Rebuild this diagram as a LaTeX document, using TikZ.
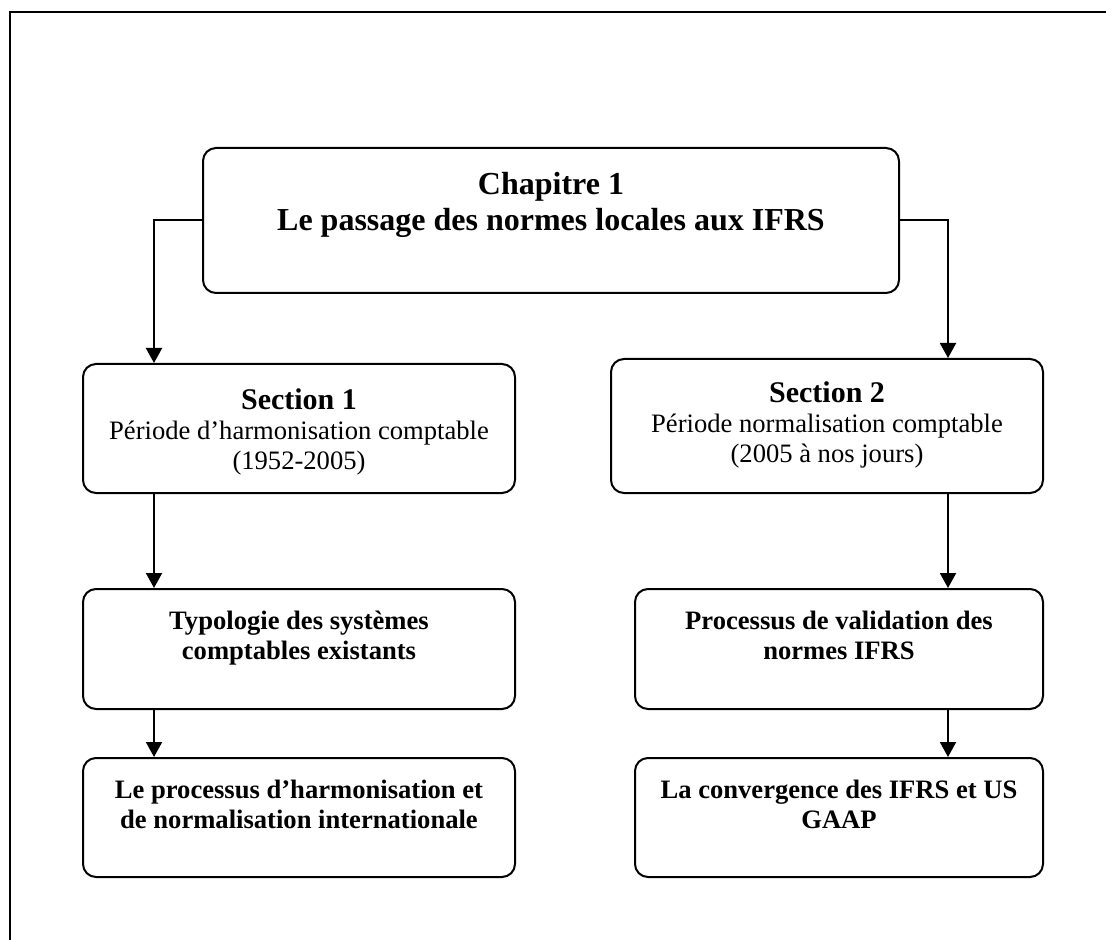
\documentclass[tikz,border=0pt]{standalone}
\usepackage{fontspec}
\setmainfont{Liberation Serif}
\usetikzlibrary{arrows.meta}
\newcommand{\boxtext}[4]{\parbox[t][#2][t]{#1}{\centering\rule{0pt}{#3}#4}}

\begin{document}
\begin{tikzpicture}[x=0.5pt,y=-0.5pt]
       \tikzstyle{cadre}=[draw, line width=1pt, rounded corners=6.5pt, inner sep=0pt, anchor=north west, font=\fontsize{13.3}{15}\selectfont]
       \tikzstyle{lien}=[line width=1pt, -{Triangle[width=8pt,length=7.5pt]}]
       \useasboundingbox (0,0) rectangle (1106,940);
       \draw[line width=1.2pt] (10,940) -- (10,12) -- (1106,12);
       % chapitre
       \node[cadre] (chap) at (202,147) {\boxtext{348pt}{72.5pt}{23.5pt}{\fontsize{16}{18}\selectfont\bfseries Chapitre 1\\Le passage des normes locales aux IFRS}};
       % section 1
       \node[cadre] (s1) at (82,363) {\boxtext{216pt}{64.5pt}{22.5pt}{{\fontsize{15}{15}\selectfont\bfseries Section 1}\\Période d’harmonisation comptable\\(1952-2005)}};
       \node[cadre] (t1) at (82,588) {\boxtext{216pt}{60pt}{20pt}{\bfseries Typologie des systèmes\\comptables existants}};
       \node[cadre] (p1) at (82,757) {\boxtext{216pt}{59.5pt}{20pt}{\bfseries Le processus d’harmonisation et\\de normalisation internationale}};
       % section 2
       \node[cadre] (s2) at (610,358) {\boxtext{216pt}{67pt}{21.5pt}{{\fontsize{15}{15}\selectfont\bfseries Section 2}\\Période normalisation comptable\\(2005 à nos jours)}};
       \node[cadre] (v2) at (634,588) {\boxtext{204pt}{60pt}{20pt}{\bfseries Processus de validation des\\normes IFRS}};
       \node[cadre] (c2) at (634,757) {\boxtext{204pt}{59.5pt}{20pt}{\bfseries La convergence des IFRS et US\\GAAP}};
       \draw[lien] (chap.west) -| ([xshift=36pt]s1.north west);
       \draw[lien] ([xshift=36pt]s1.south west) -- ([xshift=36pt]t1.north west);
       \draw[lien] ([xshift=36pt]t1.south west) -- ([xshift=36pt]p1.north west);
       \draw[lien] (chap.east) -| ([xshift=-48pt]s2.north east);
       \draw[lien] ([xshift=-48pt]s2.south east) -- ([xshift=-48pt]v2.north east);
       \draw[lien] ([xshift=-48pt]v2.south east) -- ([xshift=-48pt]c2.north east);
\end{tikzpicture}
\end{document}
